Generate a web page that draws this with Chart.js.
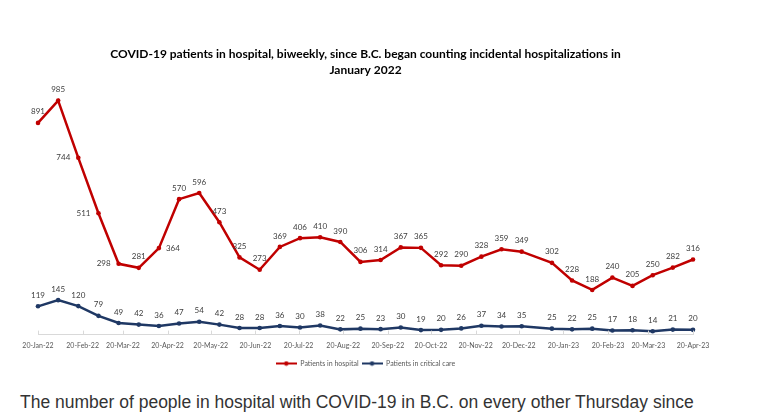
<!DOCTYPE html>
<html><head><meta charset="utf-8">
<script src="https://cdn.jsdelivr.net/npm/chart.js@4.4.0/dist/chart.umd.min.js"></script>
<style>
html,body{margin:0;padding:0;background:#fff;width:775px;height:414px;overflow:hidden;}
#wrap{position:absolute;left:0;top:0;width:775px;height:380px;}
#caption{position:absolute;left:20px;top:392.5px;font-family:"Liberation Sans",Arial,sans-serif;font-size:17.5px;line-height:18px;color:#333;white-space:nowrap;}
</style></head><body>
<div id="wrap"><canvas id="c" width="775" height="380" style="width:775px;height:380px"></canvas></div>
<div id="caption">The number of people in hospital with COVID-19 in B.C. on every other Thursday since</div>
<script>
const dates = ['2022-01-20','2022-02-03','2022-02-17','2022-03-03','2022-03-17','2022-03-31','2022-04-14','2022-04-28','2022-05-12','2022-05-26','2022-06-09','2022-06-23','2022-07-07','2022-07-21','2022-08-04','2022-08-18','2022-09-01','2022-09-15','2022-09-29','2022-10-13','2022-10-27','2022-11-10','2022-11-24','2022-12-08','2022-12-22','2023-01-12','2023-01-26','2023-02-09','2023-02-23','2023-03-09','2023-03-23','2023-04-06','2023-04-20'];
const hospital = [891,985,744,511,298,281,364,570,596,473,325,273,369,406,410,390,306,314,367,365,292,290,328,359,349,302,228,188,240,205,250,282,316];
const criticalCare = [119,145,120,79,49,42,36,47,54,42,28,28,36,30,38,22,25,23,30,19,20,26,37,34,35,25,22,25,17,18,14,21,20];
const tickLabels = ['20-Jan-22','20-Feb-22','20-Mar-22','20-Apr-22','20-May-22','20-Jun-22','20-Jul-22','20-Aug-22','20-Sep-22','20-Oct-22','20-Nov-22','20-Dec-22','20-Jan-23','20-Feb-23','20-Mar-23','20-Apr-23'];
const seriesNames = ['Patients in hospital','Patients in critical care'];
const titleLines = ['COVID-19 patients in hospital, biweekly, since B.C. began counting incidental hospitalizations in','January 2022'];
const hospitalLabelPlacement = ['above','above','left','left','left','above','right','above','above','above','above','above','above','above','above','above','above','above','above','above','above','above','above','above','above','above','above','above','above','above','above','above','above'];

const RED = '#C00000', BLUE = '#1F3864';
const DAY = 86400000;
const MONTHS = {Jan:0,Feb:1,Mar:2,Apr:3,May:4,Jun:5,Jul:6,Aug:7,Sep:8,Oct:9,Nov:10,Dec:11};
const base = Date.UTC(2022,0,20);
function dayOfIso(s){const p=s.split('-').map(Number);return (Date.UTC(p[0],p[1]-1,p[2])-base)/DAY;}
function dayOfLabel(s){const p=s.split('-');return (Date.UTC(2000+Number(p[2]),MONTHS[p[1]],Number(p[0]))-base)/DAY;}
const xDays = dates.map(dayOfIso);
const tickDays = tickLabels.map(dayOfLabel);

function legendImg(color){
  const c=document.createElement('canvas'); c.width=21; c.height=6;
  const g=c.getContext('2d');
  g.strokeStyle=color; g.lineWidth=2; g.beginPath(); g.moveTo(0,3); g.lineTo(21,3); g.stroke();
  g.fillStyle=color; g.beginPath(); g.arc(10.5,3,2.3,0,Math.PI*2); g.fill();
  return c;
}
const legendImgs = [legendImg(RED), legendImg(BLUE)];

const valueLabels = {
  id:'valueLabels',
  afterDatasetsDraw(chart){
    const ctx = chart.ctx;
    ctx.save();
    ctx.font = '8px Lato'; ctx.fillStyle = '#404040';
    ctx.textAlign = 'center'; ctx.textBaseline = 'middle';
    chart.data.datasets.forEach((ds, di) => {
      const meta = chart.getDatasetMeta(di);
      meta.data.forEach((pt, i) => {
        const place = di === 0 ? hospitalLabelPlacement[i] : 'above';
        let dx = 0, dy = -11;
        if (place === 'left') { dx = -15; dy = 0; }
        else if (place === 'right') { dx = 14; dy = 0; }
        ctx.fillText(String(ds.data[i].y), pt.x + dx, pt.y + dy);
      });
    });
    const xs = chart.scales.x, yb = chart.chartArea.bottom;
    ctx.strokeStyle = '#d9d9d9'; ctx.lineWidth = 1;
    xs.ticks.forEach(t => {
      const px = Math.round(xs.getPixelForValue(t.value)) + 0.5;
      ctx.beginPath(); ctx.moveTo(px, yb); ctx.lineTo(px, yb - 4); ctx.stroke();
    });
    ctx.restore();
  }
};

new Chart(document.getElementById('c'), {
  type: 'line',
  data: {
    datasets: [
      {label: seriesNames[0], data: xDays.map((x,i)=>({x, y: hospital[i]})), borderColor: RED, backgroundColor: RED, clip: false,
       borderWidth: 2.5, pointRadius: 2.3, pointBorderWidth: 0, pointBackgroundColor: RED, tension: 0},
      {label: seriesNames[1], data: xDays.map((x,i)=>({x, y: criticalCare[i]})), borderColor: BLUE, backgroundColor: BLUE, clip: false,
       borderWidth: 2.5, pointRadius: 2.3, pointBorderWidth: 0, pointBackgroundColor: BLUE, tension: 0}
    ]
  },
  options: {
    responsive: false,
    animation: false,
    layout: {padding: {left: 38, right: 82, top: 46, bottom: 3}},
    scales: {
      x: {
        type: 'linear', min: 0, max: xDays[xDays.length-1],
        afterBuildTicks: s => { s.ticks = tickDays.map(v => ({value: v})); },
        grid: {display: false, drawTicks: false},
        border: {display: true, color: '#d9d9d9', width: 1},
        ticks: {autoSkip: false, maxRotation: 0, padding: 7, color: '#595959', font: {family: 'Lato', size: 7},
                callback: (v, i) => tickLabels[i]}
      },
      y: {display: false, min: 0, max: 1000}
    },
    plugins: {
      title: {display: true, text: titleLines, color: '#000', font: {family: 'Lato', weight: 'bold', size: 12, lineHeight: 1.333},
              padding: {top: 0, bottom: 19}},
      legend: {position: 'bottom', labels: {usePointStyle: true, pointStyleWidth: 21, boxHeight: 7, color: '#595959',
               font: {family: 'Lato', size: 7}, padding: 3,
               generateLabels: chart => chart.data.datasets.map((ds, i) => ({text: ds.label, pointStyle: legendImgs[i],
                 fillStyle: ds.borderColor, strokeStyle: ds.borderColor, lineWidth: 0, hidden: false, datasetIndex: i, fontColor: '#595959'}))}},
      tooltip: {enabled: false}
    }
  },
  plugins: [valueLabels]
});
</script>
</body></html>
